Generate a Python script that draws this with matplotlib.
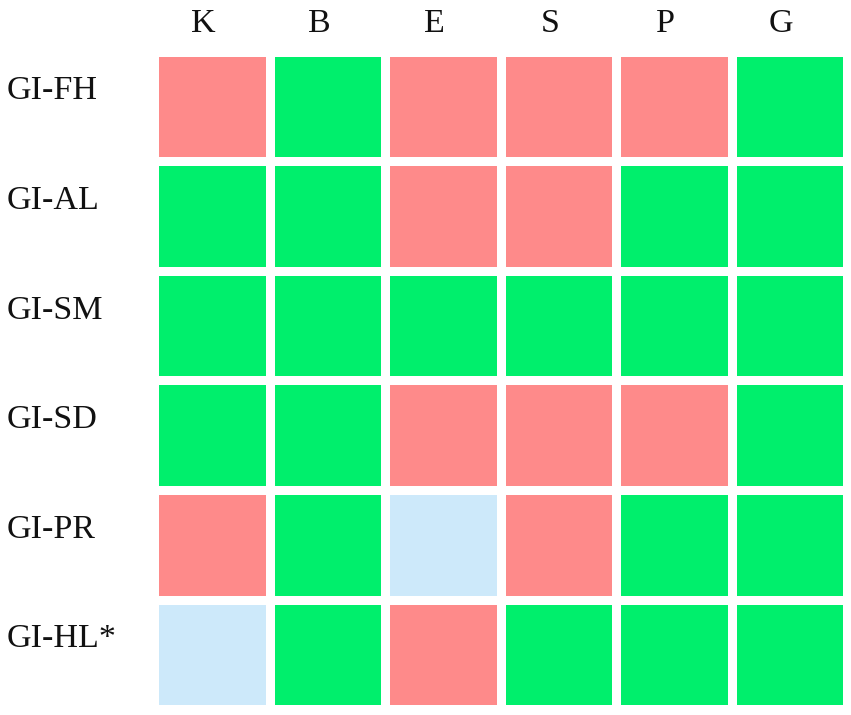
import matplotlib
matplotlib.use("Agg")
import matplotlib.pyplot as plt
import numpy as np
from matplotlib.colors import ListedColormap

columns = ["K", "B", "E", "S", "P", "G"]
rows = ["GI-FH", "GI-AL", "GI-SM", "GI-SD", "GI-PR", "GI-HL*"]
# 0 = red, 1 = green, 2 = light blue
status = [
    [0, 1, 0, 0, 0, 1],
    [1, 1, 0, 0, 1, 1],
    [1, 1, 1, 1, 1, 1],
    [1, 1, 0, 0, 0, 1],
    [0, 1, 2, 0, 1, 1],
    [2, 1, 0, 1, 1, 1],
]
palette = ["#FE8A8A", "#00EF6C", "#CDE9FA"]

DPI = 100
W, H = 851, 715
fig = plt.figure(figsize=(W / DPI, H / DPI), dpi=DPI)
ax = fig.add_axes([154.4 / W, 1 - 709.3 / H, (847.3 - 154.4) / W, (709.3 - 51.5) / H])

cmap = ListedColormap(palette)
data = np.array(status)
ax.pcolormesh(np.arange(len(columns) + 1), np.arange(len(rows) + 1), data,
              cmap=cmap, vmin=-0.5, vmax=2.5, edgecolors="white",
              linewidth=8.5 * 72 / DPI)
ax.set_xlim(0, len(columns))
ax.set_ylim(len(rows), 0)
ax.axis("off")

font = dict(family="Liberation Serif", fontsize=24.5, color="#111111")
for j, c in enumerate(columns):
    ax.annotate(c, xy=(j + 0.5, H - 32), xycoords=("data", "figure pixels"),
                xytext=(-8.5, 0), textcoords="offset pixels",
                ha="center", va="baseline", **font)
for i, r in enumerate(rows):
    ax.annotate(r, xy=(7, i + 0.5), xycoords=("figure pixels", "data"),
                xytext=(0, 7), textcoords="offset pixels",
                ha="left", va="baseline", **font)

fig.savefig("out.png", dpi=DPI)
